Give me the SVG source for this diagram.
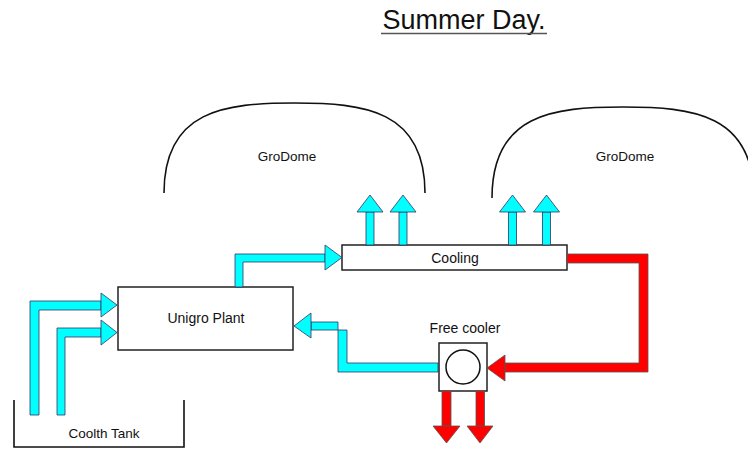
<svg xmlns="http://www.w3.org/2000/svg" width="748" height="449" viewBox="0 0 748 449">
<style>
text{font-family:"Liberation Sans",Arial,sans-serif;fill:#111;text-anchor:middle}
.lbl{font-size:14px}
.box{fill:#fff;stroke:#222;stroke-width:1.5}
.cy{fill:#00FFFF;stroke:#336;stroke-width:0.8;stroke-linejoin:miter}
.rd{fill:#FF0000;stroke:#555;stroke-width:0.8}
.ln{fill:none;stroke:#111;stroke-width:1.6}
</style>
<rect width="748" height="449" fill="#fff"/>
<g id="title">
<text x="464" y="29" style="font-size:27px">Summer Day.</text>
<line x1="381" y1="33.5" x2="547" y2="33.5" stroke="#555" stroke-width="1.5"/>
</g>
<g id="grodome1">
<path class="ln" d="M164,193 C164,110 225,103 294.5,103 C364,103 425,110 425,193"/>
<text class="lbl" x="287" y="161" style="font-size:13.5px">GroDome</text>
</g>
<g id="grodome2">
<path class="ln" d="M492,198 C492,114 553,107 623,107 C693,107 754,114 754,198"/>
<text class="lbl" x="625" y="161" style="font-size:13.5px">GroDome</text>
</g>
<g id="coolth-tank">
<path class="ln" d="M14,400 V447 H184 V400"/>
<text class="lbl" x="104" y="438" style="font-size:13.5px">Coolth Tank</text>
</g>
<g id="unigro-plant">
<rect class="box" x="118" y="287" width="175" height="63"/>
<text class="lbl" x="206" y="323">Unigro Plant</text>
</g>
<g id="cooling">
<rect class="box" x="342" y="245" width="225" height="25"/>
<text class="lbl" x="455" y="263">Cooling</text>
</g>
<g id="free-cooler">
<text class="lbl" x="465" y="333">Free cooler</text>
<rect class="box" x="439" y="343" width="48" height="48"/>
<circle cx="463" cy="367" r="17" fill="#fff" stroke="#111" stroke-width="1.5"/>
</g>
<g id="connectors">
<polygon class="cy" points="30,415 30,301 101,301 101,310 39,310 39,415"/>
<polygon class="cy" points="101,293 117,305 101,317"/>
<polygon class="cy" points="57,415 57,328 101,328 101,337 65,337 65,415"/>
<polygon class="cy" points="101,320 117,332.5 101,345"/>
<polygon class="cy" points="235,287 235,254 325,254 325,262 243,262 243,287"/>
<polygon class="cy" points="325,245 342,257.5 325,270"/>
<rect class="cy" x="366" y="212" width="8" height="33"/>
<polygon class="cy" points="357,212 370,195 383,212"/>
<rect class="cy" x="399" y="212" width="8" height="33"/>
<polygon class="cy" points="390,212 403,195 416,212"/>
<rect class="cy" x="508.5" y="212" width="8" height="33"/>
<polygon class="cy" points="499.5,212 512.5,195 525.5,212"/>
<rect class="cy" x="542.5" y="212" width="8" height="33"/>
<polygon class="cy" points="533.5,212 546.5,195 559.5,212"/>
<polygon class="rd" points="567,254 648,254 648,372 505,372 505,363 639,363 639,263 567,263"/>
<polygon class="rd" points="505,355 487,368 505,381"/>
<polygon class="cy" points="438,363 347,363 347,330 311,330 311,322 338,322 338,372 438,372"/>
<polygon class="cy" points="311,313 294,326 311,338"/>
<rect class="rd" x="442" y="391" width="9" height="35"/>
<polygon class="rd" points="433,426 446.5,443 460,426"/>
<rect class="rd" x="476" y="391" width="8.5" height="35"/>
<polygon class="rd" points="467,426 480,443 493,426"/>
</g>
</svg>
